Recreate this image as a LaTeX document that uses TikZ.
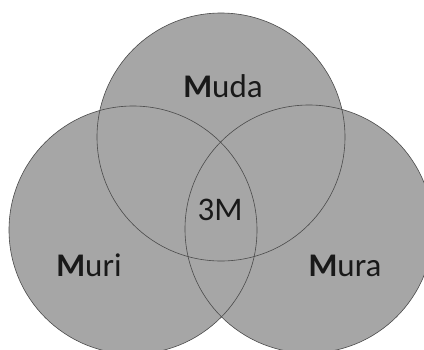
\documentclass[tikz,border=0pt]{standalone}
\usepackage{fontspec}
\setmainfont{Carlito}
\begin{document}
\begin{tikzpicture}[x=1pt,y=-1pt,
  set/.style={circle,minimum size=248pt,inner sep=0pt,fill=setgray,draw=none},
  rim/.style={circle,minimum size=248pt,inner sep=0pt,draw=rimgray,line width=0.6pt},
  label/.style={font=\fontsize{33}{33}\selectfont,text=black!90,anchor=base,inner sep=0pt}]
\definecolor{setgray}{HTML}{A6A6A6}
\definecolor{rimgray}{HTML}{4A4A4A}
\useasboundingbox (0,0) rectangle (424,349);
\clip (0,0) rectangle (424,349);
% filled discs
\node[set] (muda) at (221,137) {};
\node[set] (muri) at (133,230) {};
\node[set] (mura) at (309,229) {};
% outlines on top so every overlap stays visible
\node[rim] at (muda) {};
\node[rim] at (muri) {};
\node[rim] at (mura) {};
% labels
\node[label] (tmuda) at (223,97) {\textbf{M}uda};
\node[label] (tmuri) at (89,276) {\textbf{M}uri};
\node[label] (tmura) at (345,276) {\textbf{M}ura};
\node[label] (tmid) at (220,220) {3M};
\end{tikzpicture}
\end{document}
